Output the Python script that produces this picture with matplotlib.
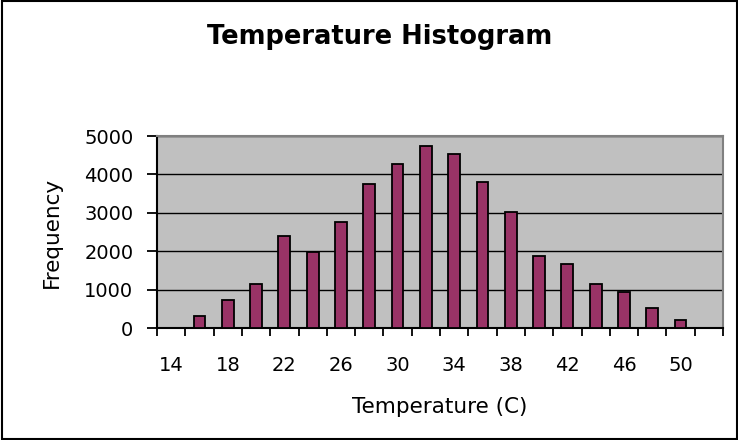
import matplotlib
matplotlib.use("Agg")
import matplotlib.pyplot as plt
from matplotlib.patches import Rectangle
from matplotlib.ticker import MultipleLocator, FixedLocator

plt.rcParams['font.family'] = ['DejaVu Sans']

temperatures = [14, 16, 18, 20, 22, 24, 26, 28, 30, 32, 34, 36, 38, 40, 42, 44, 46, 48, 50, 52]
frequency = [0, 300, 720, 1140, 2390, 1970, 2750, 3740, 4260, 4730,
             4520, 3790, 3010, 1870, 1660, 1140, 930, 510, 200, 0]
tick_labels = ['14', '18', '22', '26', '30', '34', '38', '42', '46', '50']

W, H = 738, 440
fig = plt.figure(figsize=(W / 100, H / 100), dpi=100)
fig.patch.set_facecolor('white')
fig.patches.append(Rectangle((1.5 / W, 1.5 / H), (W - 3) / W, (H - 3) / H,
                             transform=fig.transFigure, fill=False,
                             edgecolor='black', linewidth=1.5))

left, right, top, bottom = 157, 723, 136, 328
ax = fig.add_axes([left / W, (H - bottom) / H, (right - left) / W, (bottom - top) / H])
ax.set_facecolor('#C0C0C0')

x = list(range(len(temperatures)))
ax.bar(x, frequency, width=0.42, color='#993366', edgecolor='black', linewidth=1.3, zorder=3)

ax.set_xlim(-0.5, len(temperatures) - 0.5)
ax.set_ylim(0, 5000)
ax.yaxis.set_major_locator(MultipleLocator(1000))
ax.grid(axis='y', color='black', linewidth=1.0, zorder=1)
ax.set_axisbelow(True)

label_pos = [temperatures.index(int(t)) for t in tick_labels]
ax.xaxis.set_major_locator(FixedLocator(label_pos))
ax.set_xticklabels(tick_labels)
ax.xaxis.set_minor_locator(FixedLocator([i - 0.5 for i in range(len(temperatures) + 1)]))
ax.tick_params(axis='x', which='major', length=0, pad=20, labelsize=14)
ax.tick_params(axis='x', which='minor', length=6, width=1.3, direction='out', color='black')
ax.tick_params(axis='y', which='major', length=7, width=1.3, direction='out', labelsize=14, pad=10)

for s in ['left', 'bottom']:
    ax.spines[s].set_color('black')
    ax.spines[s].set_linewidth(1.5)
for s in ['top', 'right']:
    ax.spines[s].set_color('#808080')
    ax.spines[s].set_linewidth(1.5)

ax.set_xlabel('Temperature (C)', fontsize=15.5, labelpad=16)
ax.set_ylabel('Frequency', fontsize=15.5, labelpad=16)
fig.text(380 / W, 1 - 37 / H, 'Temperature Histogram',
         ha='center', va='center', fontsize=18.5, fontweight='bold')

fig.savefig('out.png', dpi=100)
